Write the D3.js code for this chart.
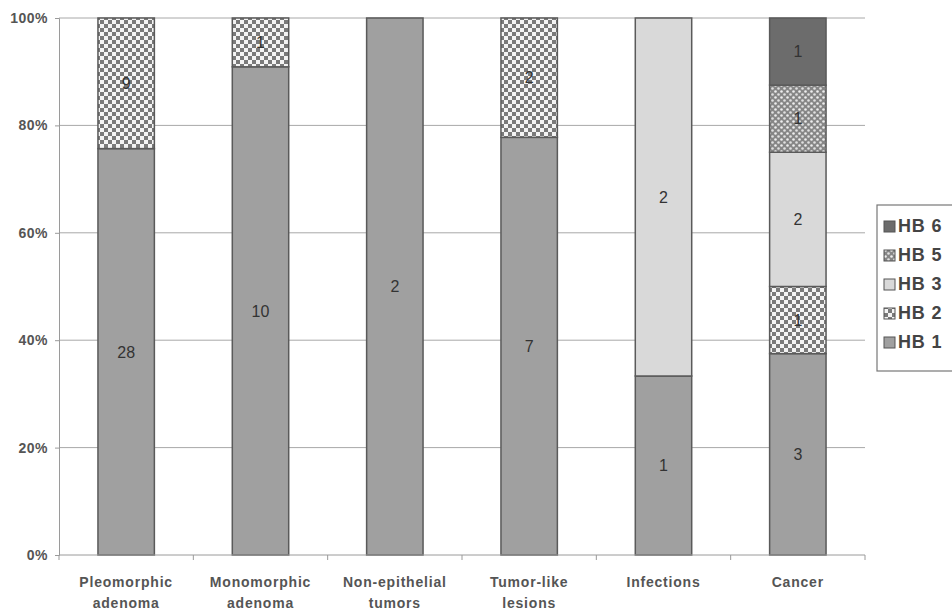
<!DOCTYPE html>
<html>
<head>
<meta charset="utf-8">
<script src="https://cdn.jsdelivr.net/npm/d3@7"></script>
<style>
  body { margin: 0; background: #fff; }
  svg { display: block; font-family: Arial, "Liberation Sans", sans-serif; }
</style>
</head>
<body>
<svg id="chart" width="952" height="614"></svg>
<script>
// Diagnosis groups (x axis) and the number of cases per HB grade
const categories = [
  ["Pleomorphic", "adenoma"],
  ["Monomorphic", "adenoma"],
  ["Non-epithelial", "tumors"],
  ["Tumor-like", "lesions"],
  ["Infections"],
  ["Cancer"]
];
const seriesNames = ["HB 1", "HB 2", "HB 3", "HB 5", "HB 6"];
const hb1 = [28, 10, 2, 7, 1, 3];
const hb2 = [9, 1, 0, 2, 0, 1];
const hb3 = [0, 0, 0, 0, 2, 2];
const hb5 = [0, 0, 0, 0, 0, 1];
const hb6 = [0, 0, 0, 0, 0, 1];
const yTicks = [0, 0.2, 0.4, 0.6, 0.8, 1];

const svg = d3.select("#chart");
const margin = { left: 59, top: 18, right: 87, bottom: 59 };
const W = 952, H = 614;
const x0 = margin.left, x1 = W - margin.right;
const y0 = H - margin.bottom, y1 = margin.top;

// Fill patterns
const defs = svg.append("defs");
const checker = defs.append("pattern").attr("id", "p-checker")
  .attr("width", 8).attr("height", 8).attr("patternUnits", "userSpaceOnUse");
checker.append("rect").attr("width", 8).attr("height", 8).attr("fill", "#f4f4f4");
checker.append("rect").attr("width", 4).attr("height", 4).attr("fill", "#7a7a7a");
checker.append("rect").attr("x", 4).attr("y", 4).attr("width", 4).attr("height", 4).attr("fill", "#7a7a7a");

const dots = defs.append("pattern").attr("id", "p-dots")
  .attr("width", 6).attr("height", 6).attr("patternUnits", "userSpaceOnUse");
dots.append("rect").attr("width", 6).attr("height", 6).attr("fill", "#868686");
dots.append("circle").attr("cx", 1.5).attr("cy", 1.5).attr("r", 1.3).attr("fill", "#eeeeee");
dots.append("circle").attr("cx", 4.5).attr("cy", 4.5).attr("r", 1.3).attr("fill", "#e0e0e0");

const fills = {
  "HB 1": "#a0a0a0",
  "HB 2": "url(#p-checker)",
  "HB 3": "#d9d9d9",
  "HB 5": "url(#p-dots)",
  "HB 6": "#6c6c6c"
};

const rows = categories.map((c, i) => ({
  key: i,
  "HB 1": hb1[i], "HB 2": hb2[i], "HB 3": hb3[i], "HB 5": hb5[i], "HB 6": hb6[i]
}));
const stacked = d3.stack().keys(seriesNames).offset(d3.stackOffsetExpand)(rows);

const x = d3.scaleBand().domain(d3.range(categories.length)).range([x0, x1]).paddingInner(0).paddingOuter(0);
const y = d3.scaleLinear().domain([0, 1]).range([y0, y1]);
const barW = x.bandwidth() * 0.42;

// Gridlines
svg.append("g").selectAll("line").data(yTicks.filter(t => t > 0)).join("line")
  .attr("x1", x0).attr("x2", x1)
  .attr("y1", d => y(d)).attr("y2", d => y(d))
  .attr("stroke", "#a8a8a8").attr("stroke-width", 1);

// Y axis
const yAxis = svg.append("g").attr("transform", `translate(${x0},0)`)
  .call(d3.axisLeft(y).tickValues(yTicks).tickFormat(d3.format(".0%")).tickSize(4));
yAxis.select(".domain").attr("stroke", "#9a9a9a");
yAxis.selectAll(".tick line").attr("stroke", "#9a9a9a");
yAxis.selectAll(".tick text").attr("fill", "#555").attr("font-size", 14)
  .attr("font-weight", "bold").attr("letter-spacing", 0.5).attr("x", -11);

// Bars
const seriesG = svg.append("g").selectAll("g").data(stacked).join("g")
  .attr("fill", d => fills[d.key]);
seriesG.selectAll("rect").data(d => d.filter(s => s[1] - s[0] > 0)).join("rect")
  .attr("x", d => x(d.data.key) + (x.bandwidth() - barW) / 2)
  .attr("width", barW)
  .attr("y", d => y(d[1]))
  .attr("height", d => y(d[0]) - y(d[1]))
  .attr("stroke", "#5a5a5a").attr("stroke-width", 1.5);

// Counts inside each segment
stacked.forEach(s => {
  svg.append("g").selectAll("text").data(s.filter(d => d[1] - d[0] > 0)).join("text")
    .attr("x", d => x(d.data.key) + x.bandwidth() / 2)
    .attr("y", d => y((d[0] + d[1]) / 2))
    .attr("dy", "0.36em")
    .attr("text-anchor", "middle")
    .attr("font-size", 16)
    .attr("fill", "#333")
    .text(d => d.data[s.key]);
});

// X axis
const xAxis = svg.append("g").attr("transform", `translate(0,${y0})`);
xAxis.append("line").attr("x1", x0).attr("x2", x1).attr("stroke", "#9a9a9a");
xAxis.selectAll("line.tk").data(d3.range(categories.length + 1)).join("line")
  .attr("class", "tk")
  .attr("x1", i => x0 + i * x.bandwidth()).attr("x2", i => x0 + i * x.bandwidth())
  .attr("y1", 0).attr("y2", 5).attr("stroke", "#9a9a9a");
const xl = xAxis.selectAll("text").data(categories).join("text")
  .attr("x", (d, i) => x(i) + x.bandwidth() / 2)
  .attr("y", 32)
  .attr("text-anchor", "middle")
  .attr("font-size", 14).attr("font-weight", "bold").attr("fill", "#555")
  .attr("letter-spacing", 0.8);
xl.selectAll("tspan").data(d => d).join("tspan")
  .attr("x", function () { return d3.select(this.parentNode).attr("x"); })
  .attr("dy", (d, i) => i === 0 ? 0 : 21)
  .text(d => d);

// Legend (top entry is the top of the stack)
const legendKeys = seriesNames.slice().reverse();
const lg = svg.append("g").attr("transform", "translate(877,205)");
lg.append("rect").attr("width", 90).attr("height", 166)
  .attr("fill", "#fff").attr("stroke", "#777").attr("stroke-width", 1.2);
const li = lg.selectAll("g").data(legendKeys).join("g")
  .attr("transform", (d, i) => `translate(7,${21 + i * 29})`);
li.append("rect").attr("x", 0).attr("y", -5).attr("width", 11).attr("height", 11)
  .attr("fill", d => fills[d]).attr("stroke", "#555").attr("stroke-width", 1);
li.append("text").attr("x", 14).attr("dy", "0.36em")
  .attr("font-size", 18).attr("font-weight", "bold").attr("fill", "#444")
  .attr("letter-spacing", 0.8)
  .text(d => d);
</script>
</body>
</html>
